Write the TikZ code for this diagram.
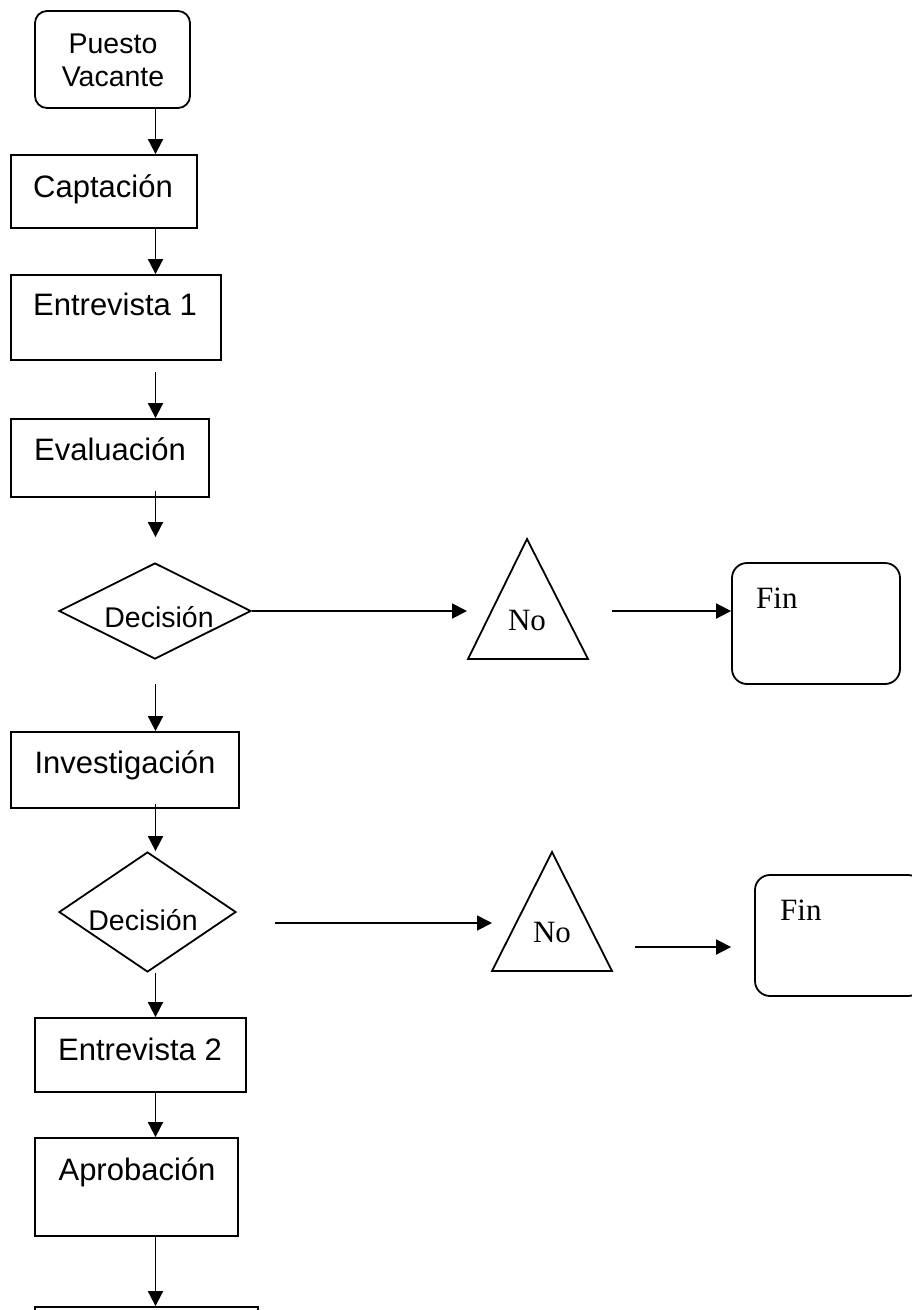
\documentclass[tikz,border=0pt]{standalone}
\usepackage{fontspec}
\setmainfont{Liberation Serif}
\newfontfamily\arialf{Liberation Sans}
\usetikzlibrary{shapes.geometric,arrows.meta}
\begin{document}
\begin{tikzpicture}[x=1pt,y=-1pt,
  shp/.style={draw,line width=1.8pt,inner sep=0pt,line join=miter},
  boxr/.style={shp,rectangle},
  rbox/.style={shp,rectangle,rounded corners=#1},
  dia/.style={shp,diamond},
  arr/.style={line width=1.8pt,-{Triangle[length=15pt,width=15pt]}},
  lab/.style={font=\arialf\fontsize{31}{36}\selectfont,anchor=base,inner sep=0pt},
  slab/.style={font=\arialf\fontsize{28.5}{33}\selectfont,anchor=base,inner sep=0pt},
  tlab/.style={font=\fontsize{31}{36}\selectfont,inner sep=0pt},
]
\useasboundingbox (0,0) rectangle (912,1310);
\clip (0,0) rectangle (912,1310);
\coordinate (ax) at (155.5,0);

% main column
\node[rbox=12pt,minimum width=155pt,minimum height=97pt] (pv) at (112.5,59.5) {};
\node[slab] (pvt1) at (113,53) {Puesto};
\node[slab] (pvt2) at (113,86) {Vacante};

\node[boxr,minimum width=186pt,minimum height=73pt] (cap) at (104,191.5) {};
\node[lab] (capt) at (103,197) {Captación};

\node[boxr,minimum width=210pt,minimum height=85pt] (e1) at (116,317.5) {};
\node[lab] (e1t) at (115,315) {Entrevista 1};

\node[boxr,minimum width=198pt,minimum height=78pt] (ev) at (110,458) {};
\node[lab] (evt) at (110,460) {Evaluación};

\node[dia,minimum width=192pt,minimum height=96pt] (d1) at (155,611) {};
\node[slab] (d1t) at (159,627) {Decisión};

\node[boxr,minimum width=228pt,minimum height=76pt] (inv) at (125,770) {};
\node[lab] (invt) at (125,773) {Investigación};

\node[dia,minimum width=177pt,minimum height=120pt] (d2) at (147.5,912) {};
\node[slab] (d2t) at (143,930) {Decisión};

\node[boxr,minimum width=211pt,minimum height=74pt] (e2) at (140.5,1055) {};
\node[lab] (e2t) at (140,1060) {Entrevista 2};

\node[boxr,minimum width=203pt,minimum height=98pt] (apr) at (136.5,1187) {};
\node[lab] (aprt) at (137,1180) {Aprobación};

\node[boxr,minimum width=223pt,minimum height=73pt] (last) at (146.5,1343.5) {};

% vertical connectors
\draw[arr] (pv.south -| ax) -- (cap.north -| ax);
\draw[arr] (cap.south -| ax) -- (e1.north -| ax);
\draw[arr,shorten <=11pt] (e1.south -| ax) -- (ev.north -| ax);
\draw[arr,shorten <=-7pt,shorten >=25pt] (ev.south -| ax) -- (d1.north -| ax);
\draw[arr,shorten <=24pt] (d1.south -| ax) -- (inv.north -| ax);
\draw[arr,shorten <=-5pt] (inv.south -| ax) -- (d2.north -| ax);
\draw[arr] (d2.south -| ax) -- (e2.north -| ax);
\draw[arr] (e2.south -| ax) -- (apr.north -| ax);
\draw[arr] (apr.south -| ax) -- (last.north -| ax);

% first rejection branch
\draw[shp] (527,539) -- (588,659) -- (468,659) -- cycle;
\node[tlab,anchor=base] (n1) at (527,630) {No};
\node[rbox=15pt,minimum width=168pt,minimum height=121pt] (f1) at (816,623.5) {};
\node[tlab,anchor=base west] (f1t) at (756,608) {Fin};
\coordinate (n1in) at (467,611);
\coordinate (n1out) at (612,611);
\draw[arr] (d1.east) -- (n1in);
\draw[arr] (n1out) -- (f1.west |- n1out);

% second rejection branch
\draw[shp] (552,852) -- (612,971) -- (492,971) -- cycle;
\node[tlab,anchor=base] (n2) at (552,942) {No};
\node[rbox=15pt,minimum width=168pt,minimum height=121pt] (f2) at (839,935.5) {};
\node[tlab,anchor=base west] (f2t) at (780,920) {Fin};
\coordinate (d2out) at (275,923);
\coordinate (n2in) at (492,923);
\coordinate (n2out) at (635,947);
\draw[arr] (d2out) -- (n2in);
\draw[arr,shorten >=23pt] (n2out) -- (f2.west |- n2out);
\end{tikzpicture}
\end{document}
